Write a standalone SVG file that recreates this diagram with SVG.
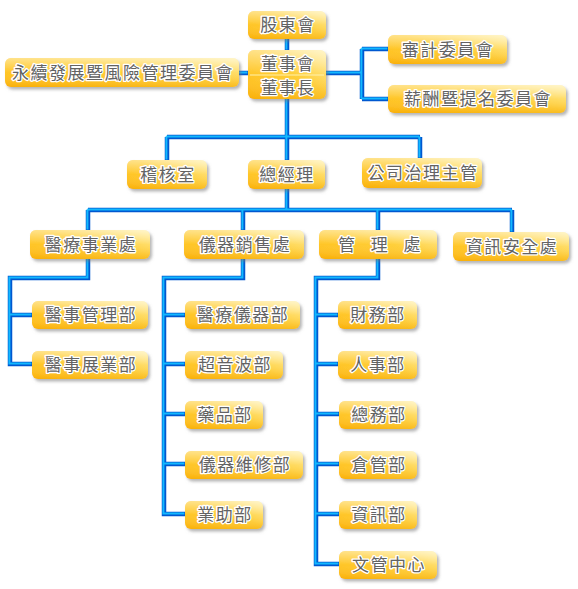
<svg xmlns="http://www.w3.org/2000/svg" xmlns:xlink="http://www.w3.org/1999/xlink" width="578" height="589" viewBox="0 0 578 589">
<style>
.b{fill:url(#g);filter:url(#sh)}
.h{fill:url(#hl)}
.t{font-family:"Noto Sans CJK TC","Noto Sans CJK SC",sans-serif;font-size:17px;fill:#636363;stroke:#fff;stroke-width:2.6px;paint-order:stroke;stroke-linejoin:round;text-anchor:middle;letter-spacing:1.5px}
.t2{font-size:16.5px}
.cd{fill:none;stroke:#0058d0;stroke-width:4.5}
.cl{fill:none;stroke:#12b8ff;stroke-width:2}
</style>
<defs>
<linearGradient id="g" x1="0" y1="1" x2="1" y2="0">
<stop offset="0" stop-color="#ffb90a"/>
<stop offset="0.55" stop-color="#ffcc2e"/>
<stop offset="1" stop-color="#ffeea0"/>
</linearGradient>
<linearGradient id="hl" x1="0" y1="0" x2="0" y2="1">
<stop offset="0" stop-color="#fff" stop-opacity="0.45"/>
<stop offset="0.5" stop-color="#fff" stop-opacity="0.05"/>
<stop offset="1" stop-color="#e89000" stop-opacity="0.25"/>
</linearGradient>
<filter id="sh" x="-10%" y="-20%" width="130%" height="160%">
<feDropShadow dx="2" dy="2.5" stdDeviation="1.5" flood-color="#777" flood-opacity="0.55"/>
</filter>
<path id="conn" d="M287 39V50 M239 73H248 M326 73H362 M362 49V99 M362 49H388 M362 99H388 M287 99V137 M167 137H420 M167 137V160 M287 137V160 M420 137V158 M287 189V210 M88 210H512 M88 210V230 M243 210V230 M378 210V230 M512 210V232 M88 259V278H10V364H32 M10 315H32 M243 259V278H164V514H185 M164 315H185 M164 364H185 M164 414H185 M164 464H185 M378 259V278H316V564H339 M316 315H338 M316 364H338 M316 414H339 M316 464H339 M316 514H339"/>
</defs>
<rect width="578" height="589" fill="#fff"/>
<g id="connectors">
<use xlink:href="#conn" class="cd"/>
<use xlink:href="#conn" class="cl" transform="translate(-0.6,-0.6)"/>
</g>
<g id="n_gudong"><rect class="b" x="248" y="11" width="78" height="28" rx="6"/><rect class="h" x="248" y="11" width="78" height="28" rx="6"/><text class="t" x="288" y="31">股東會</text></g>
<g id="n_dongshi"><rect class="b" x="248" y="50" width="78" height="49" rx="6"/><rect class="h" x="248" y="50" width="78" height="49" rx="6"/><line x1="250" y1="75" x2="324" y2="75" stroke="#fff2b0" stroke-width="1"/><text class="t t2" x="288" y="69.5">董事會</text><text class="t t2" x="288" y="93.5">董事長</text></g>
<g id="n_esg"><rect class="b" x="5" y="58" width="234" height="29" rx="6"/><rect class="h" x="5" y="58" width="234" height="29" rx="6"/><text class="t" x="123" y="78.5">永續發展暨風險管理委員會</text></g>
<g id="n_audit"><rect class="b" x="388" y="35" width="119" height="29" rx="6"/><rect class="h" x="388" y="35" width="119" height="29" rx="6"/><text class="t" x="448" y="55.5">審計委員會</text></g>
<g id="n_pay"><rect class="b" x="388" y="85" width="178" height="28" rx="6"/><rect class="h" x="388" y="85" width="178" height="28" rx="6"/><text class="t" x="478" y="105">薪酬暨提名委員會</text></g>
<g id="n_jihe"><rect class="b" x="127" y="160" width="80" height="29" rx="6"/><rect class="h" x="127" y="160" width="80" height="29" rx="6"/><text class="t" x="168" y="180.5">稽核室</text></g>
<g id="n_gm"><rect class="b" x="248" y="160" width="77" height="29" rx="6"/><rect class="h" x="248" y="160" width="77" height="29" rx="6"/><text class="t" x="287" y="180.5">總經理</text></g>
<g id="n_gov"><rect class="b" x="362" y="158" width="120" height="30" rx="6"/><rect class="h" x="362" y="158" width="120" height="30" rx="6"/><text class="t" x="423" y="179">公司治理主管</text></g>
<g id="n_med"><rect class="b" x="30" y="230" width="120" height="29" rx="6"/><rect class="h" x="30" y="230" width="120" height="29" rx="6"/><text class="t" x="91" y="250.5">醫療事業處</text></g>
<g id="n_inst"><rect class="b" x="184" y="230" width="120" height="29" rx="6"/><rect class="h" x="184" y="230" width="120" height="29" rx="6"/><text class="t" x="245" y="250.5">儀器銷售處</text></g>
<g id="n_mgmt"><rect class="b" x="319" y="230" width="118" height="29" rx="6"/><rect class="h" x="319" y="230" width="118" height="29" rx="6"/><text class="t" x="380" y="250.5" style="word-spacing:9px">管 理 處</text></g>
<g id="n_sec"><rect class="b" x="453" y="232" width="116" height="29" rx="6"/><rect class="h" x="453" y="232" width="116" height="29" rx="6"/><text class="t" x="512" y="252.5">資訊安全處</text></g>
<g id="n_m1"><rect class="b" x="32" y="301" width="116" height="28" rx="6"/><rect class="h" x="32" y="301" width="116" height="28" rx="6"/><text class="t" x="91" y="321">醫事管理部</text></g>
<g id="n_m2"><rect class="b" x="32" y="351" width="116" height="28" rx="6"/><rect class="h" x="32" y="351" width="116" height="28" rx="6"/><text class="t" x="91" y="371">醫事展業部</text></g>
<g id="n_i1"><rect class="b" x="185" y="301" width="115" height="28" rx="6"/><rect class="h" x="185" y="301" width="115" height="28" rx="6"/><text class="t" x="243" y="321">醫療儀器部</text></g>
<g id="n_i2"><rect class="b" x="185" y="351" width="98" height="28" rx="6"/><rect class="h" x="185" y="351" width="98" height="28" rx="6"/><text class="t" x="235" y="371">超音波部</text></g>
<g id="n_i3"><rect class="b" x="185" y="401" width="78" height="28" rx="6"/><rect class="h" x="185" y="401" width="78" height="28" rx="6"/><text class="t" x="225" y="421">藥品部</text></g>
<g id="n_i4"><rect class="b" x="185" y="451" width="118" height="28" rx="6"/><rect class="h" x="185" y="451" width="118" height="28" rx="6"/><text class="t" x="245" y="471">儀器維修部</text></g>
<g id="n_i5"><rect class="b" x="185" y="501" width="78" height="28" rx="6"/><rect class="h" x="185" y="501" width="78" height="28" rx="6"/><text class="t" x="225" y="521">業助部</text></g>
<g id="n_g1"><rect class="b" x="338" y="301" width="79" height="28" rx="6"/><rect class="h" x="338" y="301" width="79" height="28" rx="6"/><text class="t" x="378" y="321">財務部</text></g>
<g id="n_g2"><rect class="b" x="338" y="351" width="79" height="28" rx="6"/><rect class="h" x="338" y="351" width="79" height="28" rx="6"/><text class="t" x="378" y="371">人事部</text></g>
<g id="n_g3"><rect class="b" x="339" y="401" width="78" height="28" rx="6"/><rect class="h" x="339" y="401" width="78" height="28" rx="6"/><text class="t" x="379" y="421">總務部</text></g>
<g id="n_g4"><rect class="b" x="339" y="451" width="78" height="28" rx="6"/><rect class="h" x="339" y="451" width="78" height="28" rx="6"/><text class="t" x="379" y="471">倉管部</text></g>
<g id="n_g5"><rect class="b" x="339" y="501" width="78" height="28" rx="6"/><rect class="h" x="339" y="501" width="78" height="28" rx="6"/><text class="t" x="379" y="521">資訊部</text></g>
<g id="n_g6"><rect class="b" x="339" y="551" width="98" height="28" rx="6"/><rect class="h" x="339" y="551" width="98" height="28" rx="6"/><text class="t" x="389" y="571">文管中心</text></g>
</svg>
